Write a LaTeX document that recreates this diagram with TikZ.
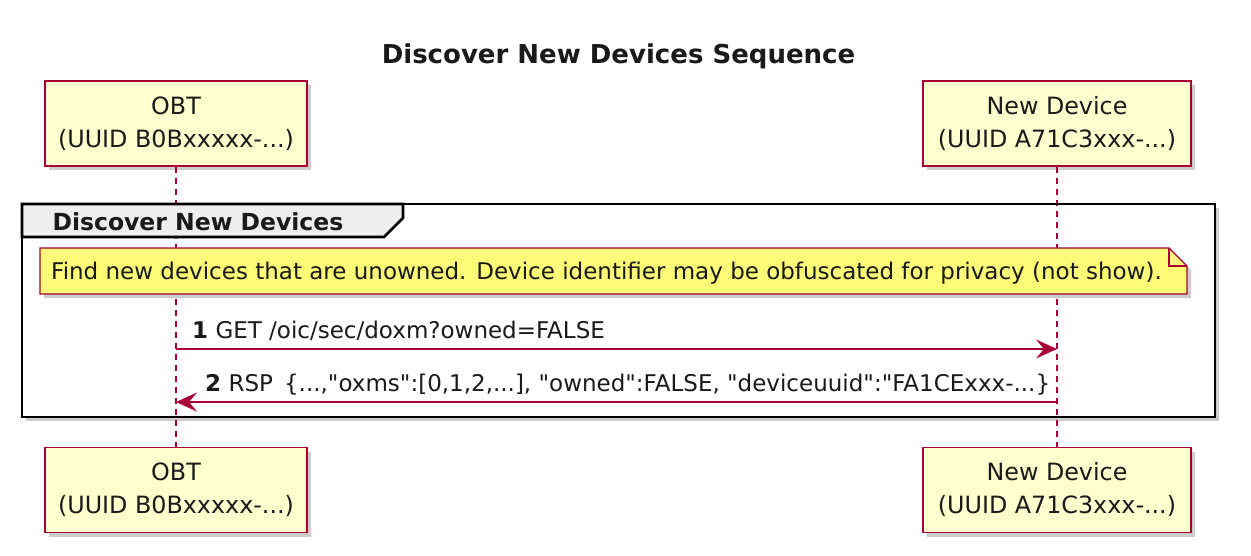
\documentclass[tikz,border=0pt]{standalone}
\usepackage{fontspec}
\setmainfont{DejaVu Sans}
\newfontfamily\dv{DejaVu Sans}
\usetikzlibrary{arrows.meta,shadows}
\definecolor{crim}{HTML}{A80036}
\definecolor{partfill}{HTML}{FEFECE}
\definecolor{notefill}{HTML}{FBFB77}
\definecolor{grphead}{HTML}{EEEEEE}
\definecolor{txt}{HTML}{1A1A1A}
\tikzset{
  shad/.style={drop shadow={shadow xshift=4pt,shadow yshift=-4pt,fill=black,opacity=0.2}},
  part/.style={draw=crim, fill=partfill, line width=1.3pt, minimum height=85pt,
    align=center, inner sep=0pt, text=txt, font=\dv\fontsize{23.8}{33}\selectfont, shad},
  life/.style={draw=crim, line width=1.2pt, dash pattern=on 6pt off 5pt},
  msg/.style={draw=crim, line width=1.3pt, -{Stealth[length=21pt,width=19pt,inset=8pt,fill=crim]}},
  msgtxt/.style={text=txt, font=\dv\fontsize{23}{27}\selectfont, inner sep=0pt, anchor=base west},
  frame/.style={draw=black, line width=2.6pt},
}
\begin{document}
\begin{tikzpicture}[x=1pt,y=-1pt]
\useasboundingbox[fill=white] (0,0) rectangle (1251,555);

% title
\node[font=\dv\bfseries\fontsize{26}{30}\selectfont, anchor=base, text=txt] (title) at (618.5,63) {Discover New Devices Sequence};

% participants
\node[part, minimum width=262pt] (obt) at (176,123.5) {OBT\\(UUID B0Bxxxxx-...)};
\node[part, minimum width=268pt] (dev) at (1057,123.5) {New Device\\(UUID A71C3xxx-...)};
\node[part, minimum width=262pt] (obtb) at (176,490) {OBT\\(UUID B0Bxxxxx-...)};
\node[part, minimum width=268pt] (devb) at (1057,490) {New Device\\(UUID A71C3xxx-...)};

% group frame (shadow + background)
\fill[black,opacity=0.2] (26,208) rectangle (1219,421);
\fill[white] (22,204) rectangle (1215,417);

% lifelines
\draw[life] (obt.south) -- (obtb.north);
\draw[life] (dev.south) -- (devb.north);

\draw[frame, fill=grphead] (22,204) -- (403,204) -- (403,218) -- (384,237) -- (22,237) -- cycle;
\draw[frame] (22,204) rectangle (1215,417);
\node[font=\dv\bfseries\fontsize{23.5}{27}\selectfont, anchor=base west, text=txt] (glabel) at (49,230) {Discover New Devices};

% note
\fill[black,opacity=0.2] (44,252) -- (1173,252) -- (1191,270) -- (1191,298) -- (44,298) -- cycle;
\draw[crim, line width=1.2pt, fill=notefill] (40,248) -- (1169,248) -- (1187,266) -- (1187,294) -- (40,294) -- cycle;
\draw[crim, line width=1.2pt] (1169,248) -- (1169,266) -- (1187,266);
\node[msgtxt] (note) at (51,279) {Find new devices that are unowned. Device identifier may be obfuscated for privacy (not show).};

% messages
\coordinate (m1a) at (obt.south |- 0,349);
\coordinate (m1b) at (dev.south |- 0,349);
\coordinate (m2a) at (dev.south |- 0,402);
\coordinate (m2b) at (obt.south |- 0,402);
\draw[msg] (m1a) -- (m1b);
\draw[msg] (m2a) -- (m2b);
\node[msgtxt] (l1) at (192,338) {\textbf{1} GET /oic/sec/doxm?owned=FALSE};
\node[msgtxt] (l2) at (205,391) {\textbf{2} RSP\, \{...,"oxms":[0,1,2,...], "owned":FALSE, "deviceuuid":"FA1CExxx-...\}};
\end{tikzpicture}
\end{document}
